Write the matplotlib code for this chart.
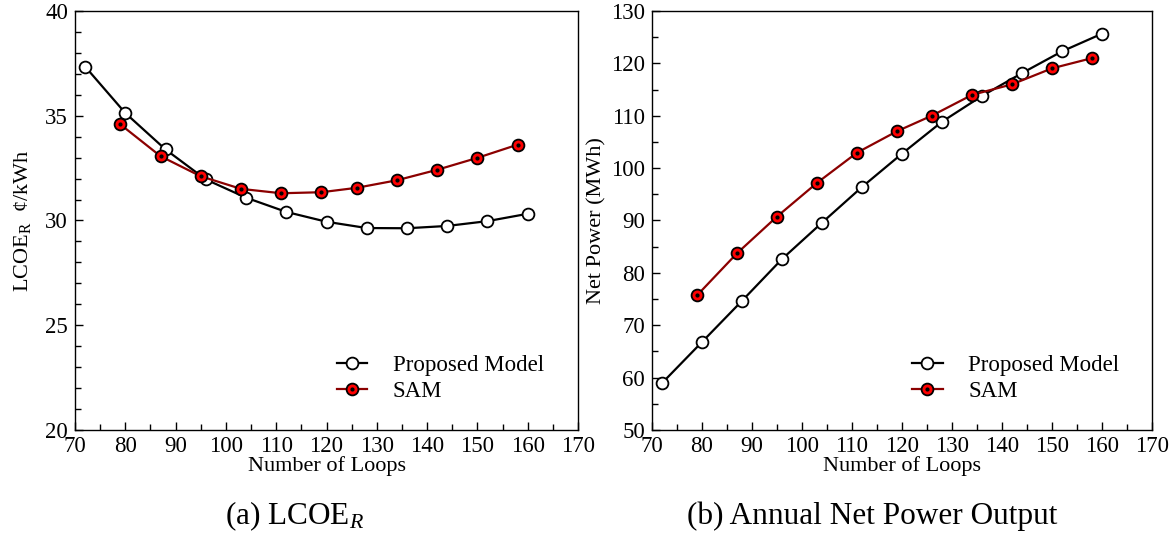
import matplotlib
matplotlib.use("Agg")
import matplotlib.pyplot as plt
from matplotlib.ticker import MultipleLocator

plt.rcParams['font.family'] = ['Liberation Serif', 'DejaVu Serif']
plt.rcParams['mathtext.fontset'] = 'custom'
plt.rcParams['mathtext.rm'] = 'Liberation Serif'
plt.rcParams['mathtext.it'] = 'Liberation Serif:italic'

# LCOE_R (cents/kWh)
loops_model = [72, 80, 88, 96, 104, 112, 120, 128, 136, 144, 152, 160]
lcoe_model = [37.35, 35.13, 33.39, 31.96, 31.09, 30.41, 29.94, 29.64, 29.63, 29.74, 29.97, 30.32]
loops_sam = [79, 87, 95, 103, 111, 119, 126, 134, 142, 150, 158]
lcoe_sam = [34.59, 33.07, 32.11, 31.51, 31.30, 31.35, 31.56, 31.92, 32.42, 32.99, 33.62]

# annual net power (MWh)
power_model = [58.95, 66.8, 74.66, 82.64, 89.58, 96.4, 102.76, 108.86, 113.79, 118.14, 122.29, 125.67]
power_sam = [75.7, 83.74, 90.75, 97.18, 102.95, 107.04, 110.03, 113.98, 116.0, 119.05, 121.0]

W, H = 1171, 533
fig = plt.figure(figsize=(W / 100, H / 100), dpi=100)

def px_axes(left, top, right, bottom):
    return fig.add_axes([left / W, 1 - bottom / H, (right - left) / W, (bottom - top) / H])

ax1 = px_axes(75, 11, 578, 430)
ax2 = px_axes(652, 11, 1152, 430)

red = '#8b0000'

def draw(ax, ym, ys):
    hm, = ax.plot(loops_model, ym, '-', color='black', lw=1.6, marker='o', ms=8.5,
                  mfc='white', mec='black', mew=1.3, zorder=3)
    hs, = ax.plot(loops_sam, ys, '-', color=red, lw=1.6, marker='o', ms=8.5,
                  mfc='red', mec='black', mew=1.3, zorder=4)
    hd, = ax.plot(loops_sam, ys, ls='none', marker='o', ms=2, mfc='black', mec='black', zorder=5)
    ax.set_xlim(70, 170)
    ax.xaxis.set_major_locator(MultipleLocator(10))
    ax.xaxis.set_minor_locator(MultipleLocator(5))
    ax.tick_params(which='both', direction='in', top=False, right=False, labelsize=16.5)
    ax.tick_params(axis='x', pad=4)
    ax.tick_params(axis='y', pad=5)
    ax.tick_params(which='major', length=6, width=1)
    ax.tick_params(which='minor', length=4, width=1)
    for s in ax.spines.values():
        s.set_linewidth(1.0)
    ax.set_xlabel('Number of Loops', fontsize=16, va='baseline')
    ax.xaxis.set_label_coords(0.5, -0.098)
    ax.legend([hm, (hs, hd)], ['Proposed Model', 'SAM'], loc='upper left',
              bbox_to_anchor=(0.52, 0.18), frameon=False, fontsize=16.5,
              handlelength=1.35, handletextpad=1.1, labelspacing=0.25,
              borderpad=0, borderaxespad=0)

draw(ax1, lcoe_model, lcoe_sam)
ax1.set_ylim(20, 40)
ax1.yaxis.set_major_locator(MultipleLocator(5))
ax1.yaxis.set_minor_locator(MultipleLocator(1))
ax1.set_ylabel(r'LCOE$_\mathrm{R}$  ¢/kWh', fontsize=16, va='center')
ax1.yaxis.set_label_coords(-0.105, 0.5)

draw(ax2, power_model, power_sam)
ax2.set_ylim(50, 130)
ax2.yaxis.set_major_locator(MultipleLocator(10))
ax2.yaxis.set_minor_locator(MultipleLocator(5))
ax2.set_ylabel('Net Power (MWh)', fontsize=16, va='center')
ax2.yaxis.set_label_coords(-0.11, 0.5)

fig.text(295 / W, 1 - 524 / H, r'(a) LCOE$_{R}$', ha='center', va='baseline', fontsize=22.5)
fig.text(872 / W, 1 - 524 / H, '(b) Annual Net Power Output', ha='center', va='baseline', fontsize=22.5)

fig.savefig('out.png', dpi=100)
